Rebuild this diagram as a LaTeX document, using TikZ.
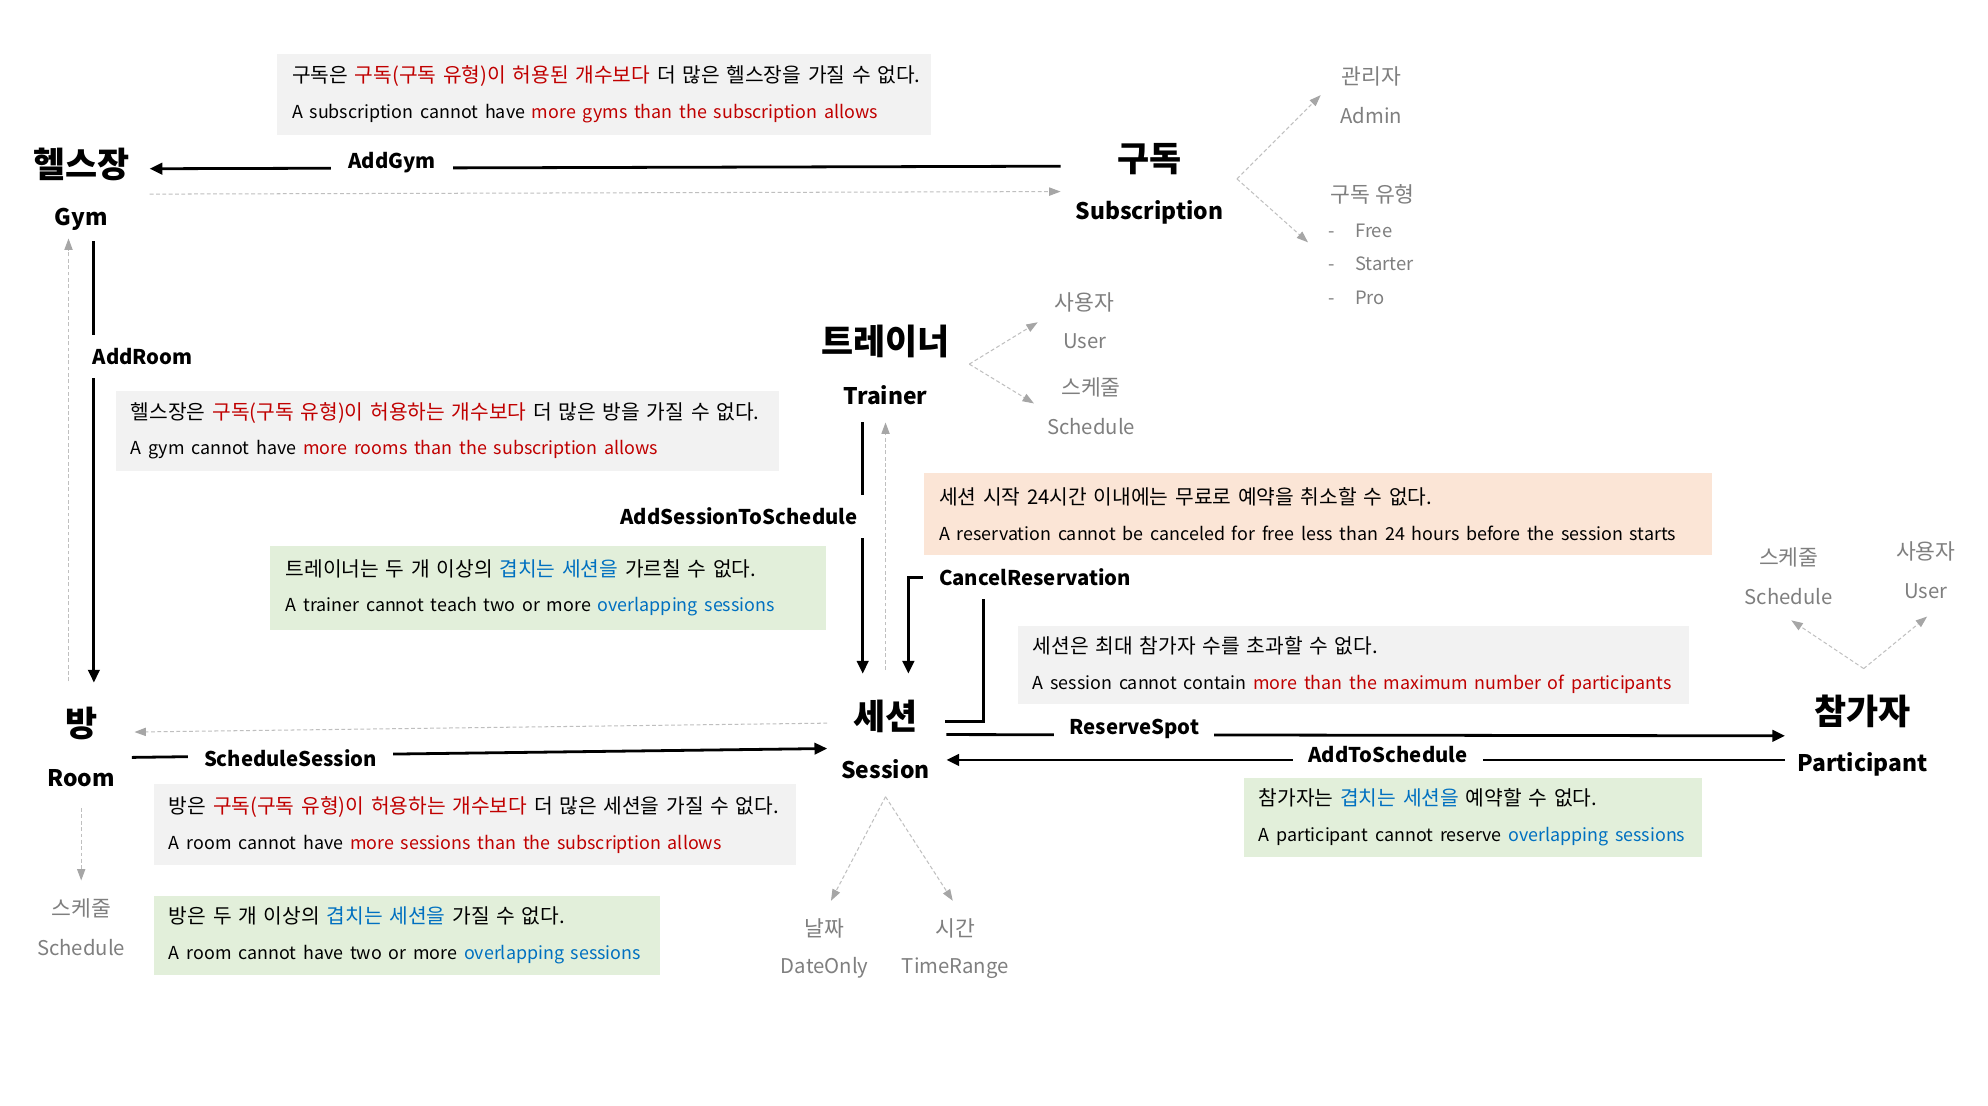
\documentclass[tikz,border=0pt]{standalone}
\usepackage{fontspec}
\setmainfont{Noto Sans CJK KR}
\usetikzlibrary{arrows.meta}
\definecolor{boxgrey}{HTML}{F2F2F2}
\definecolor{boxgreen}{HTML}{E2EFDA}
\definecolor{boxpeach}{HTML}{FBE5D6}
\definecolor{rred}{HTML}{C00000}
\definecolor{rblue}{HTML}{0070C0}
\definecolor{softgrey}{HTML}{7F7F7F}
\definecolor{dashgrey}{HTML}{BFBFBF}
\definecolor{tipgrey}{HTML}{A6A6A6}
\newcommand\rd[1]{\textcolor{rred}{#1}}
\newcommand\bl[1]{\textcolor{rblue}{#1}}
\newcommand\krline[1]{\mbox{\fontsize{16}{28}\selectfont #1}}
\newcommand\enline[1]{\mbox{\fontsize{14.1}{28}\selectfont #1}}
\begin{document}
\begin{tikzpicture}[x=1pt,y=-1pt,
 ktitle/.style={font=\fontsize{27.5}{32}\selectfont\bfseries, inner sep=0pt, yshift=-1.5pt},
 etitle/.style={font=\fontsize{18}{22}\selectfont\bfseries, inner sep=0pt, yshift=-1.5pt},
 glabelk/.style={font=\fontsize{17}{20}\selectfont, text=softgrey, inner sep=0pt, yshift=-1pt},
 glabele/.style={font=\fontsize{16}{20}\selectfont, text=softgrey, inner sep=0pt, yshift=-1pt},
 glist/.style={font=\fontsize{14.5}{18}\selectfont, text=softgrey, inner sep=0pt, anchor=west, yshift=-1pt},
 conn/.style={line width=2.2pt, -{Triangle[length=10pt,width=9pt]}},
 dasharr/.style={dashgrey, line width=0.8pt, dash pattern=on 3pt off 2pt, -{Triangle[length=9pt,width=6.5pt,color=tipgrey,fill=tipgrey]}},
 hlab/.style={font=\fontsize{16}{20}\selectfont\bfseries, fill=white, inner xsep=12pt, inner ysep=0pt, minimum height=22pt},
 vlab/.style={font=\fontsize{16}{20}\selectfont\bfseries, fill=white, inner ysep=0pt, minimum height=34pt},
 rbox/.style={anchor=north west, inner xsep=12pt, inner ysep=0pt, align=left, font=\fontsize{16}{28}\selectfont},
]
\useasboundingbox (0,0) rectangle (1567,871);
\fill[white] (0,0) rectangle (1567,871);

% rule boxes
\node[rbox, fill=boxgrey, text width=492pt, minimum height=64pt] (r1) at (218,42)
 {\krline{구독은 \rd{구독(구독 유형)이 허용된 개수보다} 더 많은 헬스장을 가질 수 없다.}\\
  \enline{A subscription cannot have \rd{more gyms than the subscription allows}}};
\node[rbox, fill=boxgrey, text width=499pt, minimum height=63pt] (r2) at (91,308)
 {\krline{헬스장은 \rd{구독(구독 유형)이 허용하는 개수보다} 더 많은 방을 가질 수 없다.}\\
  \enline{A gym cannot have \rd{more rooms than the subscription allows}}};
\node[rbox, fill=boxgreen, text width=414pt, minimum height=66pt] (r3) at (213,430)
 {\krline{트레이너는 두 개 이상의 \bl{겹치는 세션을} 가르칠 수 없다.}\\
  \enline{A trainer cannot teach two or more \bl{overlapping sessions}}};
\node[rbox, fill=boxpeach, text width=597pt, minimum height=64pt] (r4) at (728,373)
 {\krline{세션 시작 24시간 이내에는 무료로 예약을 취소할 수 없다.}\\
  \enline{A reservation cannot be canceled for free less than 24 hours before the session starts}};
\node[rbox, fill=boxgrey, text width=505pt, minimum height=62pt] (r5) at (802,493)
 {\krline{세션은 최대 참가자 수를 초과할 수 없다.}\\
  \enline{A session cannot contain \rd{more than the maximum number of participants}}};
\node[rbox, fill=boxgrey, text width=482pt, minimum height=64pt] (r6) at (121,618)
 {\krline{방은 \rd{구독(구독 유형)이 허용하는 개수보다} 더 많은 세션을 가질 수 없다.}\\
  \enline{A room cannot have \rd{more sessions than the subscription allows}}};
\node[rbox, fill=boxgreen, text width=375pt, minimum height=62pt] (r7) at (121,706)
 {\krline{방은 두 개 이상의 \bl{겹치는 세션을} 가질 수 없다.}\\
  \enline{A room cannot have two or more \bl{overlapping sessions}}};
\node[rbox, fill=boxgreen, text width=337pt, minimum height=62pt] (r8) at (980,613)
 {\krline{참가자는 \bl{겹치는 세션을} 예약할 수 없다.}\\
  \enline{A participant cannot reserve \bl{overlapping sessions}}};

% main entities
\node[ktitle] (gymk) at (64,128) {헬스장};
\node[etitle] (gyme) at (64,171) {Gym};
\node[ktitle] (subk) at (906,124) {구독};
\node[etitle] (sube) at (906,166) {Subscription};
\node[ktitle] (trk) at (698,268) {트레이너};
\node[etitle] (tre) at (698,310) {Trainer};
\node[ktitle] (roomk) at (64,569) {방};
\node[etitle] (roome) at (64,612) {Room};
\node[ktitle] (sesk) at (698,563) {세션};
\node[etitle] (sese) at (698,605) {Session};
\node[ktitle] (park) at (1468,559) {참가자};
\node[etitle] (pare) at (1468,601) {Participant};

% grey attributes
\node[glabelk] (admk) at (1081,59) {관리자};
\node[glabele] (adme) at (1081,90) {Admin};
\node[glabelk] (stypk) at (1082,152) {구독 유형};
\node[glist] (sfree) at (1047,181) {-\hskip 16pt Free};
\node[glist] (sstart) at (1047,207) {-\hskip 16pt Starter};
\node[glist] (spro) at (1047,234) {-\hskip 16pt Pro};
\node[glabelk] (tuk) at (855,237) {사용자};
\node[glabele] (tue) at (855,268) {User};
\node[glabelk] (tsk) at (860,304) {스케줄};
\node[glabele] (tse) at (860,335) {Schedule};
\node[glabelk] (psk) at (1410,438) {스케줄};
\node[glabele] (pse) at (1410,469) {Schedule};
\node[glabelk] (puk) at (1518,434) {사용자};
\node[glabele] (pue) at (1518,465) {User};
\node[glabelk] (rsk) at (64,715) {스케줄};
\node[glabele] (rse) at (64,746) {Schedule};
\node[glabelk] (sdk) at (650,731) {날짜};
\node[glabele] (sde) at (650,762) {DateOnly};
\node[glabelk] (stk) at (753,731) {시간};
\node[glabele] (ste) at (753,762) {TimeRange};

% connector end points
\coordinate (ag1) at (836,131);  \coordinate (ag2) at (118,133);
\coordinate (gs1) at (118,153);  \coordinate (gs2) at (836,151);
\coordinate (ar1) at (74,190);   \coordinate (ar2) at (74,538);
\coordinate (rg1) at (54,537);   \coordinate (rg2) at (54,188);
\coordinate (ss1) at (104,597);  \coordinate (ss2) at (652,590);
\coordinate (sr1) at (652,570);  \coordinate (sr2) at (106,577);
\coordinate (at1) at (680,333);  \coordinate (at2) at (680,531);
\coordinate (st1) at (698,528);  \coordinate (st2) at (698,333);
\coordinate (cr1) at (745,569);  \coordinate (cr2) at (775,569);
\coordinate (cr3) at (775,455);  \coordinate (cr4) at (716,455);
\coordinate (cr5) at (716,531);
\coordinate (rs1) at (746,579);  \coordinate (rs2) at (1407,580);
\coordinate (ps1) at (1407,599); \coordinate (ps2) at (746,599);
% attribute forks
\coordinate (subf) at (975,141); \coordinate (subA) at (1041,75); \coordinate (subB) at (1031,191);
\coordinate (trf) at (764,287);  \coordinate (trA) at (818,254);  \coordinate (trB) at (815,318);
\coordinate (parf) at (1469,527); \coordinate (parA) at (1412,489); \coordinate (parB) at (1519,486);
\coordinate (sesf) at (698,628); \coordinate (sesA) at (655,710); \coordinate (sesB) at (751,710);
\coordinate (roomf) at (64,637); \coordinate (roomA) at (64,694);

% dashed grey references
\draw[dasharr] (gs1) -- (gs2);
\draw[dasharr] (rg1) -- (rg2);
\draw[dasharr] (sr1) -- (sr2);
\draw[dasharr] (st1) -- (st2);
\draw[dasharr] (subf) -- (subA);
\draw[dasharr] (subf) -- (subB);
\draw[dasharr] (trf) -- (trA);
\draw[dasharr] (trf) -- (trB);
\draw[dasharr] (parf) -- (parA);
\draw[dasharr] (parf) -- (parB);
\draw[dasharr] (sesf) -- (sesA);
\draw[dasharr] (sesf) -- (sesB);
\draw[dasharr] (roomf) -- (roomA);

% commands (solid arrows)
\draw[conn] (ag1) -- node[hlab, pos=0.734, yshift=4pt, inner xsep=14pt] (agl) {AddGym} (ag2);
\draw[conn] (ar1) -- node[vlab, pos=0.261, anchor=west, inner xsep=4pt, xshift=-6pt] (arl) {AddRoom} (ar2);
\draw[conn] (ss1) -- node[hlab, pos=0.228, yshift=-2pt, inner xsep=13pt] (ssl) {ScheduleSession} (ss2);
\draw[conn] (at1) -- node[vlab, pos=0.374, anchor=east, inner xsep=5pt, xshift=2pt] (atl) {AddSessionToSchedule} (at2);
\draw[conn] (cr1) -- (cr2) -- (cr3) -- (cr4) -- (cr5);
\node[vlab, anchor=west, inner xsep=13pt] (crl) at (727,455) {CancelReservation};
\draw[conn] (rs1) -- node[hlab, pos=0.224, yshift=5pt] (rsl) {ReserveSpot} (rs2);
\draw[conn] (ps1) -- node[hlab, pos=0.4735, yshift=4pt] (psl) {AddToSchedule} (ps2);
\end{tikzpicture}
\end{document}
